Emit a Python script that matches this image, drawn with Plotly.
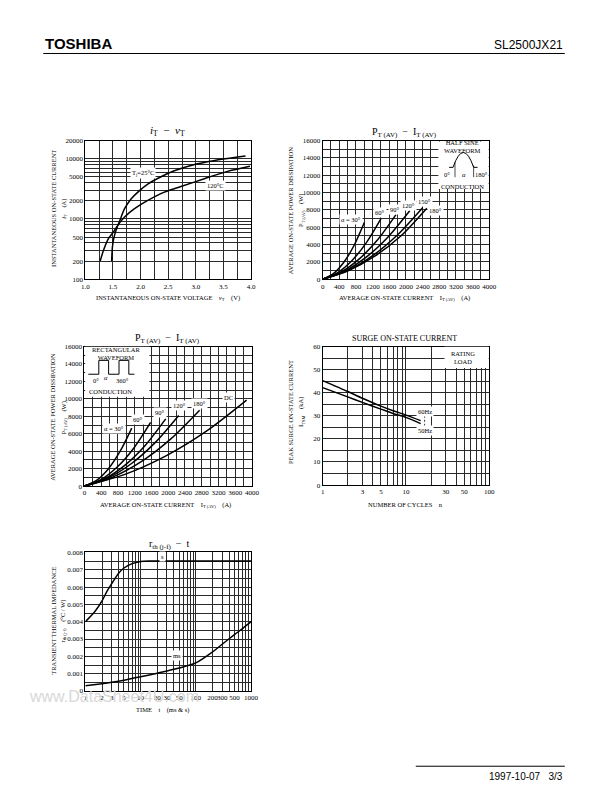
import plotly.graph_objects as go

W, H = 614, 792
SERIF = "Liberation Serif"
SANS = "Liberation Sans"

# ---------------- data ----------------
# iT - vT
vt_25 = [1.476, 1.49, 1.52, 1.565, 1.625, 1.71, 1.83, 1.98, 2.13, 2.37, 2.61, 2.96, 3.32, 3.90]
it_25 = [200, 345, 505, 690, 950, 1480, 2160, 2960, 3800, 5030, 6300, 7950, 9270, 11060]
vt_120 = [1.268, 1.33, 1.42, 1.51, 1.60, 1.71, 1.89, 2.13, 2.43, 2.73, 3.14, 3.56, 3.98]
it_120 = [200, 305, 474, 611, 817, 1080, 1480, 2030, 2790, 3450, 4620, 6110, 7480]

# PT(AV) - IT(AV), half sine
hs30_i = [0, 250, 500, 750, 1000]
hs30_p = [0, 610, 1900, 3860, 6550]
hs60_i = [0, 350, 700, 1050, 1400]
hs60_p = [0, 730, 2140, 4230, 7000]
hs90_i = [0, 440, 880, 1320, 1760]
hs90_p = [0, 830, 2350, 4550, 7450]
hs120_i = [0, 520, 1045, 1570, 2090]
hs120_p = [0, 920, 2550, 4880, 7900]
hs150_i = [0, 600, 1200, 1800, 2400]
hs150_p = [0, 1010, 2720, 5130, 8250]
hs180_i = [0, 625, 1250, 1875, 2500]
hs180_p = [0, 1000, 2650, 4980, 8200]

# PT(AV) - IT(AV), rectangular
rc30_i = [0, 280, 565, 850, 1130]
rc30_p = [0, 620, 1940, 3970, 6650]
rc60_i = [0, 395, 790, 1185, 1580]
rc60_p = [0, 750, 2220, 4400, 7300]
rc90_i = [0, 485, 970, 1455, 1940]
rc90_p = [0, 845, 2410, 4690, 7700]
rc120_i = [0, 562, 1125, 1687, 2250]
rc120_p = [0, 930, 2590, 4980, 8100]
rc180_i = [0, 687, 1375, 2062, 2750]
rc180_p = [0, 1060, 2860, 5410, 8700]
dc_i = [0, 967, 1935, 2902, 3870]
dc_p = [0, 1340, 3430, 6260, 9850]

# surge on-state current
n_cycles = [1, 2, 3, 5, 7, 10, 15]
itsm_60 = [45.2, 40.5, 37.6, 34.2, 32.2, 30.3, 27.9]
itsm_50 = [42.2, 38.2, 35.8, 32.9, 31.0, 29.3, 26.6]

# transient thermal impedance
t_s = [1, 1.5, 2, 2.5, 3, 4, 5, 7, 10, 15, 30, 100, 1000]
z_s = [0.0040, 0.0046, 0.0052, 0.0058, 0.0062, 0.0068, 0.0071, 0.00735,
       0.00747, 0.0075, 0.0075, 0.0075, 0.0075]
t_ms = [1, 2, 3, 5, 10, 20, 50, 100, 200, 300, 500, 700, 1000]
z_ms = [0.0003, 0.00042, 0.0005, 0.00062, 0.00082, 0.00103, 0.00133,
        0.00162, 0.00225, 0.0027, 0.00325, 0.0036, 0.0040]

# tick labels (major) and extra grid lines (minor)
v_ticks = [1.0, 1.5, 2.0, 2.5, 3.0, 3.5, 4.0]
v_ticktext = ["1.0", "1.5", "2.0", "2.5", "3.0", "3.5", "4.0"]
v_minor = [1.25, 1.75, 2.25, 2.75, 3.25, 3.75]
i_ticks = [100, 200, 500, 1000, 2000, 5000, 10000, 20000]
i_minor = [300, 400, 600, 700, 800, 900, 3000, 4000, 6000, 7000, 8000, 9000]
amp_ticks = list(range(0, 4001, 400))
amp_minor = list(range(200, 4000, 400))
watt_ticks = list(range(0, 16001, 2000))
watt_minor = list(range(1000, 16000, 2000))
cyc_ticks = [1, 3, 5, 10, 30, 50, 100]
cyc_minor = [2, 4, 6, 7, 8, 9, 20, 40, 60, 70, 80, 90]
ka_ticks = [0, 10, 20, 30, 40, 50, 60]
ka_minor = [5, 15, 25, 35, 45, 55]
time_ticks = [1, 2, 3, 5, 10, 20, 30, 50, 100, 200, 300, 500, 1000]
time_minor = [4, 6, 7, 8, 9, 40, 60, 70, 80, 90, 400, 600, 700, 800, 900]
zth_ticks = [0, 0.001, 0.002, 0.003, 0.004, 0.005, 0.006, 0.007, 0.008]
zth_ticktext = ["0", "0.001", "0.002", "0.003", "0.004", "0.005", "0.006", "0.007", "0.008"]
zth_minor = [0.0005, 0.0015, 0.0025, 0.0035, 0.0045, 0.0055, 0.0065, 0.0075]

GRID = "#2a2a2a"


def px_x(px):
    return px / W


def px_y(py):
    return 1 - py / H


def note(text, x, y, size=7, family=SERIF, **kw):
    d = dict(text=text, x=px_x(x), y=px_y(y), xref="paper", yref="paper",
             showarrow=False, xanchor="center", yanchor="middle",
             font=dict(family=family, size=size, color="black"))
    d.update(kw)
    return d


def dnote(text, x, y, ax, size=6.5):
    return dict(text=text, x=x, y=y, xref="x" + ax, yref="y" + ax, showarrow=False,
                xanchor="center", yanchor="middle",
                font=dict(family=SERIF, size=size, color="black"),
                bgcolor="white", borderpad=1)


def axis(l, r, anchor, ticks, ticktext, minor, **kw):
    d = dict(domain=[px_x(l), px_x(r)], anchor=anchor, showline=True, linecolor="black",
             linewidth=1, mirror=True, showgrid=True, gridcolor=GRID, gridwidth=0.7,
             zeroline=False, ticks="", tickmode="array", tickvals=ticks,
             ticktext=ticktext or [str(v) for v in ticks], tickangle=0,
             minor=dict(tickmode="array", tickvals=minor, showgrid=True,
                        gridcolor=GRID, gridwidth=0.7, ticks=""),
             tickfont=dict(family=SERIF, size=7, color="black"))
    d.update(kw)
    return d


def yaxis(t, b, anchor, ticks, ticktext, minor, **kw):
    d = axis(0, 1, anchor, ticks, ticktext, minor, **kw)
    d["domain"] = [px_y(b), px_y(t)]
    return d


fig = go.Figure()
line = dict(color="black", width=1.5, shape="spline", smoothing=0.8)

for xs, ys in [(vt_25, it_25), (vt_120, it_120)]:
    fig.add_trace(go.Scatter(x=xs, y=ys, mode="lines", line=line, xaxis="x", yaxis="y"))

for xs, ys in [(hs30_i, hs30_p), (hs60_i, hs60_p), (hs90_i, hs90_p),
               (hs120_i, hs120_p), (hs150_i, hs150_p), (hs180_i, hs180_p)]:
    fig.add_trace(go.Scatter(x=xs, y=ys, mode="lines", line=line, xaxis="x2", yaxis="y2"))

for xs, ys in [(rc30_i, rc30_p), (rc60_i, rc60_p), (rc90_i, rc90_p),
               (rc120_i, rc120_p), (rc180_i, rc180_p), (dc_i, dc_p)]:
    fig.add_trace(go.Scatter(x=xs, y=ys, mode="lines", line=line, xaxis="x3", yaxis="y3"))

for ys in [itsm_60, itsm_50]:
    fig.add_trace(go.Scatter(x=n_cycles, y=ys, mode="lines", line=line, xaxis="x4", yaxis="y4"))

for xs, ys in [(t_s, z_s), (t_ms, z_ms)]:
    fig.add_trace(go.Scatter(x=xs, y=ys, mode="lines", line=line, xaxis="x5", yaxis="y5"))

fig.update_layout(
    width=W, height=H, margin=dict(l=0, r=0, t=0, b=0),
    paper_bgcolor="white", plot_bgcolor="white", showlegend=False,
    xaxis=axis(83, 252, "y", v_ticks, v_ticktext, v_minor, range=[1, 4]),
    yaxis=yaxis(138, 278, "x", i_ticks, None, i_minor, type="log", range=[2, 4.30103]),
    xaxis2=axis(325, 495, "y2", amp_ticks, None, amp_minor, range=[0, 4000]),
    yaxis2=yaxis(138, 278, "x2", watt_ticks, None, watt_minor, range=[0, 16000]),
    xaxis3=axis(82, 253, "y3", amp_ticks, None, amp_minor, range=[0, 4000]),
    yaxis3=yaxis(346, 487, "x3", watt_ticks, None, watt_minor, range=[0, 16000]),
    xaxis4=axis(325, 495, "y4", cyc_ticks, None, cyc_minor, type="log", range=[0, 2]),
    yaxis4=yaxis(346, 486, "x4", ka_ticks, None, ka_minor, range=[0, 60]),
    xaxis5=axis(83, 252, "y5", time_ticks, None, time_minor, type="log", range=[0, 3]),
    yaxis5=yaxis(554, 694, "x5", zth_ticks, zth_ticktext, zth_minor, range=[0, 0.008]),
)

ann = []
# page header / footer / watermark
ann.append(note("<b>TOSHIBA</b>", 40, 40, size=15, family=SANS, xanchor="left"))
ann.append(note("SL2500JX21", 572, 41, size=12, family=SANS, xanchor="right"))
ann.append(note("1997-10-07   3/3", 572, 780, size=10, family=SANS, xanchor="right"))
ann.append(dict(text="www.DataSheet4U.com", x=px_x(112), y=px_y(700), xref="paper",
                yref="paper", showarrow=False, xanchor="center", yanchor="middle",
                font=dict(family=SANS, size=16, color="#d8d8d8")))

# chart 1
ann.append(note("<i>i</i><sub>T</sub>  −  <i>v</i><sub>T</sub>", 167, 128, size=11))
ann.append(note("INSTANTANEOUS ON-STATE VOLTAGE    <i>v</i><sub>T</sub>    (V)", 167, 297, size=6.5))
ann.append(note("INSTANTANEOUS ON-STATE CURRENT", 51, 207, size=6.5, textangle=-90))
ann.append(note("<i>i</i><sub>T</sub>    (A)", 61, 207, size=6.5, textangle=-90))
ann.append(dnote("T<sub>j</sub>=25°C", 2.04, 3.77, ""))
ann.append(dnote("120°C", 3.36, 3.55, ""))

# chart 2
ann.append(note("P<sub>T (AV)</sub>  −  I<sub>T (AV)</sub>", 408, 130, size=10))
ann.append(note("AVERAGE ON-STATE CURRENT    I<sub>T (AV)</sub>    (A)", 408, 297, size=6.5))
ann.append(note("AVERAGE ON-STATE POWER DISSIPATION", 293, 209, size=6.5, textangle=-90))
ann.append(note("P<sub>T (AV)</sub>    (W)", 303, 209, size=6.5, textangle=-90))
for txt, x, y in [("α = 30°", 673, 6940), ("60°", 1379, 7660), ("90°", 1732, 8080),
                  ("120°", 2071, 8490), ("150°", 2438, 8990), ("180°", 2713, 7890)]:
    ann.append(dnote(txt, x, y, "2"))
ann.append(note("HALF SINE<br>WAVEFORM", 468, 144, size=6.5))
ann.append(note("0°", 452, 172, size=6.5))
ann.append(note("<i>α</i>", 469, 172, size=6.5))
ann.append(note("180°", 487, 172, size=6.5))
ann.append(note("CONDUCTION", 468, 184, size=6.5))

# chart 3
ann.append(note("P<sub>T (AV)</sub>  −  I<sub>T (AV)</sub>", 167, 338, size=10))
ann.append(note("AVERAGE ON-STATE CURRENT    I<sub>T (AV)</sub>    (A)", 165, 506, size=6.5))
ann.append(note("AVERAGE ON-STATE POWER DISSIPATION", 50, 418, size=6.5, textangle=-90))
ann.append(note("P<sub>T (AV)</sub>    (W)", 61, 418, size=6.5, textangle=-90))
for txt, x, y in [("α = 30°", 711, 6590), ("60°", 1287, 7680), ("90°", 1794, 8470),
                  ("120°", 2269, 9190), ("180°", 2737, 9450), ("DC", 3439, 10120)]:
    ann.append(dnote(txt, x, y, "3"))
ann.append(note("RECTANGULAR<br>WAVEFORM", 115, 353, size=6.5))
ann.append(note("0°", 94, 380, size=6.5))
ann.append(note("<i>α</i>", 104, 377, size=6.5))
ann.append(note("360°", 121, 380, size=6.5))
ann.append(note("CONDUCTION", 109, 391, size=6.5))

# chart 4
ann.append(note("SURGE ON-STATE CURRENT", 408, 338, size=8))
ann.append(note("NUMBER OF CYCLES    n", 410, 506, size=6.5))
ann.append(note("PEAK SURGE ON-STATE CURRENT", 293, 412, size=6.5, textangle=-90))
ann.append(note("I<sub>TSM</sub>    (kA)", 303, 412, size=6.5, textangle=-90))
ann.append(note("RATING<br>LOAD", 468, 357, size=6.5))
ann.append(note("60Hz", 429, 412, size=6.5, bgcolor="white"))
ann.append(note("50Hz", 429, 431, size=6.5, bgcolor="white"))

# chart 5
ann.append(note("r<sub>th (j-f)</sub>  −  t", 168, 546, size=10))
ann.append(note("TIME    t    (ms & s)", 162, 713, size=6.5))
ann.append(note("TRANSIENT THERMAL IMPEDANCE", 51, 623, size=6.5, textangle=-90))
ann.append(note("r<sub>th (j-f)</sub>    (°C / W)", 60, 623, size=6.5, textangle=-90))
ann.append(dnote("s", 1.397, 0.00775, "5"))
ann.append(dnote("ms", 1.66, 0.00205, "5"))

fig.update_layout(annotations=ann)


def rect(x0, y0, x1, y1, **kw):
    return dict(type="rect", xref="paper", yref="paper", x0=px_x(x0), x1=px_x(x1),
                y0=px_y(y1), y1=px_y(y0), **kw)


def path(points, **kw):
    d = "M " + " L ".join(f"{px_x(x):.5f},{px_y(y):.5f}" for x, y in points)
    return dict(type="path", xref="paper", yref="paper", path=d, **kw)


thin = dict(color="black", width=1)
shapes = [
    # header rule and footer rule
    path([(40, 50), (572, 50)], line=thin),
    path([(420, 770), (572, 770)], line=thin),
    # white inset boxes
    rect(443, 138.8, 494.3, 187, fillcolor="white", line_width=0, layer="above"),
    rect(82.8, 346.3, 148.3, 396.7, fillcolor="white", line_width=0, layer="above"),
    rect(449.3, 346.3, 494.3, 367.7, fillcolor="white", line_width=0, layer="above"),
    # half-sine glyph
    dict(type="path", xref="paper", yref="paper", layer="above",
         path=(f"M {px_x(458):.5f},{px_y(165):.5f} "
               f"Q {px_x(468.5):.5f},{px_y(135):.5f} {px_x(479):.5f},{px_y(165):.5f}"),
         line=thin),
    path([(454, 165), (458, 165)], line=thin, layer="above"),
    path([(479, 165), (483, 165)], line=thin, layer="above"),
    path([(460, 160), (460, 175)], line=dict(color="black", width=0.7), layer="above"),
    path([(479, 163), (479, 175)], line=dict(color="black", width=0.7), layer="above"),
    # rectangular glyph
    path([(86, 374), (96.7, 374), (96.7, 360), (106.7, 360), (106.7, 374), (117.3, 374),
          (117.3, 360), (127.3, 360), (127.3, 374), (133, 374)], line=thin, layer="above"),
    # tie between 60Hz / 50Hz labels
    path([(429, 416), (429, 427)], line=dict(color="black", width=0.8, dash="2px,2px"),
         layer="above"),
]
fig.update_layout(shapes=shapes)

fig.write_html("out.html", config={"displayModeBar": False},
               post_script="document.body.style.margin='0';")
